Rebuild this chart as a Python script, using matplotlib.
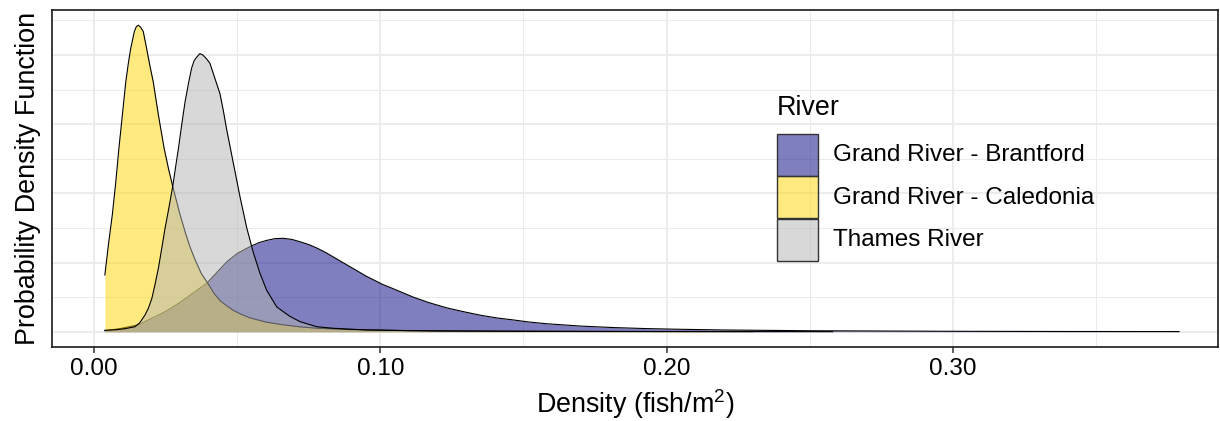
import matplotlib
matplotlib.use("Agg")
import matplotlib.pyplot as plt
from matplotlib.patches import Rectangle
from matplotlib.ticker import MultipleLocator

plt.rcParams["font.family"] = ["Liberation Sans", "DejaVu Sans"]
plt.rcParams["mathtext.default"] = "regular"

# ---------------- Data ----------------
rivers = ["Grand River - Brantford", "Grand River - Caledonia", "Thames River"]
fills = ["#000080", "#ffd700", "#b3b3b3"]

brantford_x = [0.0038, 0.0091, 0.0155, 0.0200, 0.0240, 0.0277, 0.0320, 0.0360, 0.0394,
               0.0430, 0.0464, 0.0500, 0.0545, 0.0575, 0.0603, 0.0632, 0.0661, 0.0690,
               0.0720, 0.0750, 0.0778, 0.0807, 0.0836, 0.0865, 0.0894, 0.0923, 0.0952,
               0.0981, 0.1010, 0.1040, 0.1069, 0.1115, 0.1170, 0.1232, 0.1290, 0.1348,
               0.1405, 0.1465, 0.1520, 0.1581, 0.1698, 0.1813, 0.1930, 0.2047, 0.2200,
               0.2500, 0.3000, 0.3400, 0.3790]
brantford_y = [0.15, 0.45, 1.0, 1.9, 2.7, 3.6, 4.8, 6.0, 7.0,
               8.6, 10.1, 11.3, 12.3, 12.85, 13.2, 13.45, 13.5, 13.35,
               13.0, 12.6, 12.1, 11.5, 10.8, 10.1, 9.4, 8.7, 8.0,
               7.4, 6.8, 6.3, 5.8, 5.0, 4.2, 3.45, 2.9, 2.4,
               2.0, 1.7, 1.4, 1.15, 0.82, 0.6, 0.45, 0.35, 0.25,
               0.14, 0.06, 0.03, 0.02]

caledonia_x = [0.0038, 0.0051, 0.0064, 0.0076, 0.0087, 0.0099, 0.0111, 0.0120, 0.0128,
               0.0141, 0.0148, 0.0155, 0.0163, 0.0172, 0.0184, 0.0195, 0.0207, 0.0225,
               0.0245, 0.0260, 0.0275, 0.0300, 0.0320, 0.0335, 0.0353, 0.0375, 0.0399,
               0.0420, 0.0440, 0.0465, 0.0486, 0.0515, 0.0545, 0.0600, 0.0660, 0.0720,
               0.0780, 0.0900, 0.1100, 0.1400, 0.1800, 0.2300]
caledonia_y = [8.2, 12.8, 16.9, 21.6, 26.5, 31.3, 36.1, 38.8, 40.9,
               43.4, 44.1, 44.3, 44.0, 43.4, 40.9, 38.5, 36.1, 31.3,
               26.5, 23.6, 21.0, 17.0, 14.2, 12.3, 10.4, 8.4, 6.9,
               5.5, 4.5, 3.7, 3.1, 2.5, 2.0, 1.4, 1.0, 0.7,
               0.5, 0.3, 0.15, 0.08, 0.04, 0.02]

thames_x = [0.0038, 0.0080, 0.0110, 0.0143, 0.0160, 0.0178, 0.0190, 0.0202, 0.0213,
            0.0225, 0.0236, 0.0248, 0.0262, 0.0275, 0.0285, 0.0295, 0.0306, 0.0318,
            0.0330, 0.0341, 0.0350, 0.0359, 0.0370, 0.0380, 0.0392, 0.0405, 0.0420,
            0.0440, 0.0452, 0.0464, 0.0487, 0.0510, 0.0533, 0.0556, 0.0580, 0.0603,
            0.0638, 0.0661, 0.0685, 0.0720, 0.0778, 0.0835, 0.0952, 0.1200, 0.1600,
            0.2000, 0.2580]
thames_y = [0.2, 0.3, 0.45, 0.72, 1.3, 2.4, 3.4, 4.8, 6.8,
            9.2, 11.9, 14.9, 18.0, 21.0, 23.8, 26.5, 29.8, 33.2,
            35.9, 38.1, 39.2, 39.7, 40.2, 40.0, 39.5, 38.8, 36.9,
            34.4, 31.9, 29.1, 24.3, 19.5, 15.1, 11.5, 8.4, 6.0,
            3.6, 2.9, 2.2, 1.45, 0.72, 0.5, 0.25, 0.1, 0.04,
            0.02, 0.01]

series = [(brantford_x, brantford_y), (caledonia_x, caledonia_y), (thames_x, thames_y)]

# ---------------- Plot ----------------
fig = plt.figure(figsize=(12.2, 4.21), dpi=100)
ax = fig.add_axes([52 / 1220, 1 - 347 / 421, 1166 / 1220, 337 / 421])

for i, (xs, ys) in enumerate(series):
    ax.fill_between(xs, 0, ys, color=fills[i], alpha=0.5, linewidth=0, zorder=2 + i)
    ax.plot(xs, ys, color="black", linewidth=0.8, zorder=2 + i)

ax.set_xlim(-0.01467, 0.3926)
ax.set_ylim(-2.21, 46.5)

ax.xaxis.set_minor_locator(MultipleLocator(0.05))
ax.yaxis.set_major_locator(MultipleLocator(10))
ax.yaxis.set_minor_locator(MultipleLocator(5))
ax.set_xticks([0.0, 0.1, 0.2, 0.3])
ax.set_xticklabels(["0.00", "0.10", "0.20", "0.30"])
ax.grid(which="major", color="#ebebeb", linewidth=1.3, zorder=0)
ax.grid(which="minor", color="#ebebeb", linewidth=0.7, zorder=0)
ax.set_axisbelow(True)

ax.tick_params(axis="x", which="major", length=4, width=1.1, color="#333333",
               labelsize=17.5, pad=4, labelcolor="black")
ax.tick_params(axis="x", which="minor", length=0)
ax.tick_params(axis="y", which="both", length=0, labelleft=False)
for s in ax.spines.values():
    s.set_color("#1a1a1a")
    s.set_linewidth(1.2)

ax.set_xlabel("Density (fish/m$^2$)", fontsize=19.4, labelpad=5)
ax.set_ylabel("Probability Density Function", fontsize=19.4, labelpad=8)

# ---------------- Legend ----------------
W, H = 1220, 421
fig.text(777 / W, 1 - 108 / H, "River", fontsize=19.4, va="center", ha="left")
row_top = [134, 176.5, 219]
for i, name in enumerate(rivers):
    fig.add_artist(Rectangle((777 / W, 1 - (row_top[i] + 42) / H), 41 / W, 42 / H,
                             transform=fig.transFigure, facecolor=fills[i], alpha=0.5,
                             edgecolor="none"))
    fig.add_artist(Rectangle((777 / W, 1 - (row_top[i] + 42) / H), 41 / W, 42 / H,
                             transform=fig.transFigure, facecolor="none",
                             edgecolor="#333333", linewidth=1.0))
    fig.text(833 / W, 1 - (row_top[i] + 21) / H, name, fontsize=17.5,
             va="center", ha="left")

fig.savefig("out.png", dpi=100)
